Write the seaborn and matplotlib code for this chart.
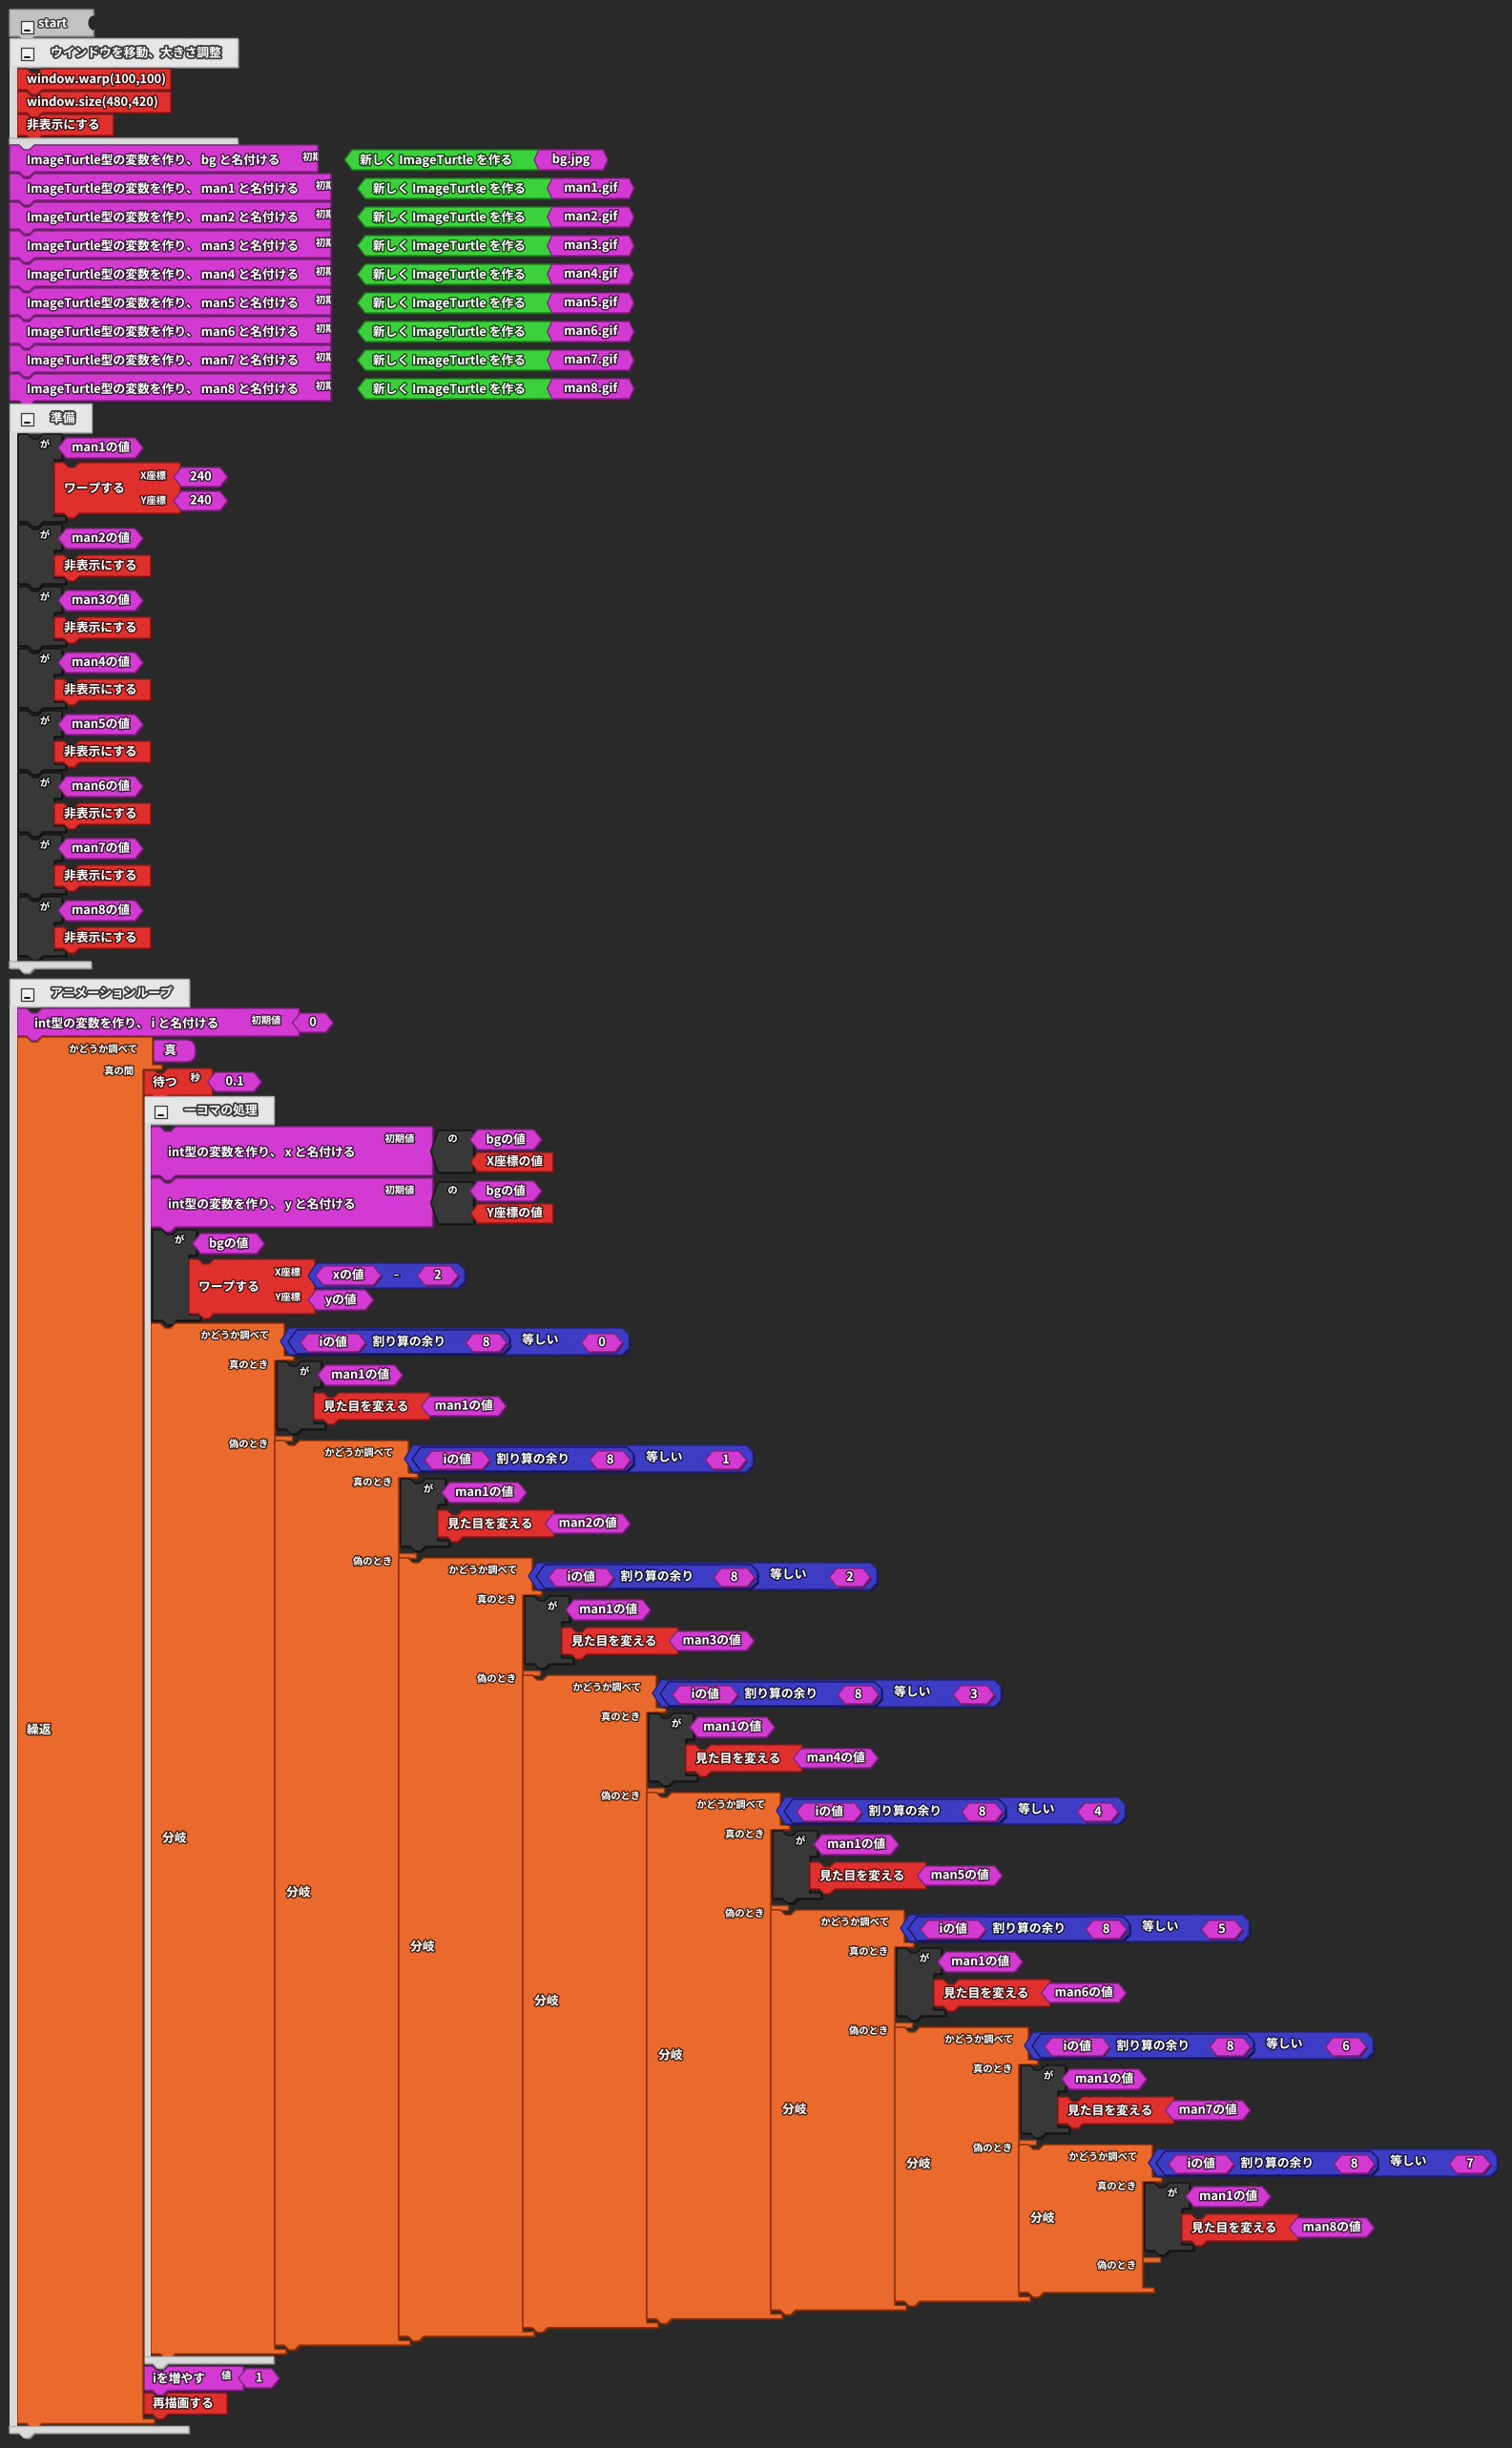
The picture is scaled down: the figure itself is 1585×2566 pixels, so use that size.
#%%
import matplotlib
matplotlib.use("Agg")
import matplotlib.pyplot as plt
import matplotlib.patheffects as pe
from matplotlib.patches import Polygon, Rectangle, FancyBboxPatch, Ellipse
from matplotlib import colors as mcolors
import seaborn as sns

# values
start_label = "start"
window_title = "ウインドウを移動、大きさ調整"
window_cmds = ["window.warp(100,100)", "window.size(480,420)", "非表示にする"]
turtle_names = ["bg", "man1", "man2", "man3", "man4", "man5", "man6", "man7", "man8"]
turtle_files = ["bg.jpg", "man1.gif", "man2.gif", "man3.gif", "man4.gif",
                "man5.gif", "man6.gif", "man7.gif", "man8.gif"]
new_turtle = "新しく ImageTurtle を作る"
prep_title = "準備"
prep_targets = ["man1の値", "man2の値", "man3の値", "man4の値",
                "man5の値", "man6の値", "man7の値", "man8の値"]
prep_start = ["240", "240"]
hide_cmd = "非表示にする"
loop_title = "アニメーションループ"
counter_name = "i"
counter_init = "0"
loop_cond = "真"
wait_sec = "0.1"
frame_title = "一コマの処理"
pos_vars = ["x", "y"]
pos_getters = ["X座標の値", "Y座標の値"]
scroll_step = "2"
mod_base = "8"
branch_keys = ["0", "1", "2", "3", "4", "5", "6", "7"]
costumes = ["man1の値", "man2の値", "man3の値", "man4の値",
            "man5の値", "man6の値", "man7の値", "man8の値"]
inc_step = "1"

#%%
BG = "#292929"
PURPLE = "#d23ad2"
RED = "#e0302e"
GREEN = "#3cd03c"
ORANGE = "#ea6a2e"
BLUE = "#3c3cc4"
DARK = "#383838"
GROUP = "#e6e6e6"
GROUP_BAR = "#dadada"
START = "#c2c2c2"

W_PX, H_PX, DPI = 1585, 2566, 100
HALF, FULL = 6.85, 12.8     # px per half / full width char
MAIN, SMALL = 9.2, 7.4      # font sizes (pt)

sns.set_theme(style="dark", rc={"figure.facecolor": BG, "axes.facecolor": BG,
                                "savefig.facecolor": BG})
plt.rcParams["font.family"] = ["Noto Sans CJK JP", "DejaVu Sans"]

TXT_FX = [pe.Stroke(linewidth=2.0, foreground=(0, 0, 0, 0.7)), pe.Normal()]
HEAD_FX = [pe.Stroke(linewidth=2.6, foreground="#3c3c3c"), pe.Normal()]

fig = plt.figure(figsize=(W_PX / DPI, H_PX / DPI), dpi=DPI)
ax = fig.add_axes([0, 0, 1, 1])
ax.set_xlim(0, W_PX)
ax.set_ylim(H_PX, 0)
ax.set_axis_off()


def tw(s):
    return sum(HALF if ord(c) < 0x2000 else FULL for c in s)


def shade(c, f):
    r, g, b = mcolors.to_rgb(c)
    return (r * f, g * f, b * f)


def shape(pts, fc, ec=None, shadow=True, lw=1.0):
    if shadow:
        ax.add_patch(Polygon([(px + 1.6, py + 1.6) for px, py in pts], closed=True,
                             fc=shade(fc, 0.4), ec="none"))
    p = Polygon(pts, closed=True, fc=fc, ec=ec or shade(fc, 0.6), lw=lw)
    ax.add_patch(p)
    return p


def notch_rect(x, y, w, h, top=True, bottom=True):
    pts = [(x, y)]
    if top:
        pts += [(x + 10, y), (x + 15, y + 5), (x + 21, y + 5), (x + 26, y)]
    pts += [(x + w, y), (x + w, y + h)]
    if bottom:
        pts += [(x + 26, y + h), (x + 21, y + h + 5), (x + 15, y + h + 5), (x + 10, y + h)]
    pts += [(x, y + h)]
    return pts


def hexv(x, y, w, h, d=None):
    d = h * 0.4 if d is None else d
    return [(x, y + h / 2), (x + d, y), (x + w - d, y), (x + w, y + h / 2),
            (x + w - d, y + h), (x + d, y + h)]


def left_point(x, y, w, h, d=7):
    return [(x, y + h / 2), (x + d, y), (x + w, y), (x + w, y + h), (x + d, y + h)]


def blue_pts(x, y, w, h):
    return [(x, y + h / 2), (x + 9, y), (x + w - 7, y), (x + w, y + 7),
            (x + w, y + h - 7), (x + w - 7, y + h), (x + 9, y + h)]


def txt(x, y, s, size=MAIN, ha="left", fx=None):
    return ax.text(x, y, s, fontsize=size, ha=ha, va="center", color="white",
                   fontweight="bold", path_effects=fx or TXT_FX, zorder=10)


def value(x, y, s, h=21, fc=PURPLE):
    w = tw(s) + 36
    shape(hexv(x, y, w, h), fc)
    txt(x + w / 2, y + h / 2, s, ha="center")
    return w


def command(x, y, s, h=22, fc=RED):
    w = tw(s) + 24
    shape(notch_rect(x, y, w, h), fc)
    txt(x + 10, y + h / 2 + 0.5, s)
    return w


def command_arg(x, y, s, lab, val, h, fc=PURPLE):
    w = tw(s) + 47
    shape(notch_rect(x, y, w, h), fc)
    txt(x + 10, y + h / 2 + 1, s)
    txt(x + 10 + tw(s) + 14, y + 10, lab, SMALL)
    value(x + w - 5, y + (h - 20) / 2, val, 20)
    return w


def checkbox(x, y):
    ax.add_patch(Rectangle((x, y), 13, 13, fc="#f2f2f2", ec="#3a3a3a", lw=0.9, zorder=5))
    ax.plot([x + 4, x + 9], [y + 9.5, y + 9.5], color="#111111", lw=1.4, zorder=6)


def group_header(x, y, title, h):
    w = 43 + tw(title) + 17
    shape([(x, y), (x + w, y), (x + w, y + h), (x, y + h)], GROUP, ec="#b0b0b0")
    checkbox(x + 12, y + 10)
    txt(x + 43, y + h / 2 + 1, title, fx=HEAD_FX)
    return w


def group_footer(x, w, top, bar_y):
    ax.add_patch(Rectangle((x, top), 8, bar_y - top, fc=GROUP_BAR, ec="none"))
    shape(notch_rect(x, bar_y, w, 7, top=False), GROUP_BAR, ec="#b0b0b0")


def decl(x, y, s, h, clip=False):
    w = tw(s) + (54 if clip else 88)
    p = shape(notch_rect(x, y, w, h), PURPLE)
    txt(x + 18, y + h / 2 + 2, s)
    t = txt(x + 18 + tw(s) + 20, y + 13, "初期値", SMALL)
    if clip:
        # the label runs under the attached block, only its start shows
        t.set_clip_path(p)
        t.set_clip_on(True)
    return w


def tell(x, T, h, target, bw=38):
    pts = [(x, T), (x + 10, T), (x + 15, T + 5), (x + 21, T + 5), (x + 26, T),
           (x + bw + 8, T), (x + bw + 8, T + 27), (x + bw, T + 27),
           (x + bw, T + h - 6), (x + bw + 12, T + h - 6), (x + bw + 12, T + h),
           (x + 26, T + h), (x + 21, T + h + 5), (x + 15, T + h + 5), (x + 10, T + h), (x, T + h)]
    shape(pts, DARK, ec="#121212")
    txt(x + bw - 10, T + 11, "が", SMALL, ha="center")
    value(x + bw + 4, T + 4, target)
    return x + bw


def warp(x, y, first, second, h=55, w=132):
    shape(notch_rect(x, y, w, h), RED)
    txt(x + 10, y + h / 2 + 1, "ワープする")
    txt(x + 117, y + 14, "X座標", SMALL, ha="right")
    txt(x + 117, y + 40, "Y座標", SMALL, ha="right")
    first(x + 125, y + 4)
    second(x + 125, y + 30)


def minus_block(x, y):
    xv = f"{pos_vars[0]}の値"
    xw = tw(xv) + 36
    sw = tw(scroll_step) + 36
    ow = 8 + xw + 38 + sw + 7
    shape(blue_pts(x, y, ow, 26), BLUE)
    value(x + 8, y + 3, xv, 20)
    txt(x + 8 + xw + 16, y + 12, "-", size=11, ha="center")
    value(x + 8 + xw + 38, y + 3, scroll_step, 20)


def attr_getter(x, y, obj, attr):
    shape(left_point(x, y, 45, 44, d=8), DARK, ec="#121212")
    txt(x + 23, y + 9, "の", SMALL, ha="center")
    value(x + 41, y - 1, obj)
    aw = tw(attr) + 28
    shape(left_point(x + 42, y + 23, aw, 20), RED)
    txt(x + 42 + (aw + 6) / 2, y + 33, attr, ha="center")


def pill(x, y, s, h, fc=PURPLE):
    w = tw(s) + 40
    ax.add_patch(FancyBboxPatch((x + 1.6, y + 1.6), w, h, boxstyle="round,pad=0,rounding_size=10",
                                fc=shade(fc, 0.4), ec="none"))
    ax.add_patch(FancyBboxPatch((x, y), w, h, boxstyle="round,pad=0,rounding_size=10",
                                fc=fc, ec=shade(fc, 0.6), lw=1.0))
    txt(x + w / 2, y + h / 2, s, ha="center")


def equals_mod(cx, cy, key):
    iv = f"{counter_name}の値"
    mod_txt, eq_txt = "割り算の余り", "等しい"
    i_w = tw(iv) + 36
    b_w = tw(mod_base) + 36
    k_w = tw(key) + 36
    inner_w = 13 + i_w + 7 + tw(mod_txt) + 21 + b_w + 3
    outer_w = 8 + inner_w + 13 + tw(eq_txt) + 24 + k_w + 7
    shape(blue_pts(cx, cy, outer_w, 28), BLUE)
    ix = cx + 8
    shape(blue_pts(ix, cy + 2, inner_w, 25), BLUE, ec="#161660")
    value(ix + 13, cy + 6, iv, 19)
    txt(ix + 13 + i_w + 7, cy + 15, mod_txt)
    value(ix + inner_w - 3 - b_w, cy + 6, mod_base, 19)
    txt(ix + inner_w + 13, cy + 13, eq_txt)
    value(cx + outer_w - 7 - k_w, cy + 6, key, 19)


def c_block(x, top, bottom, col_w, arm_h):
    pts = [(x, top), (x + 10, top), (x + 15, top + 5), (x + 21, top + 5), (x + 26, top),
           (x + col_w + 10, top), (x + col_w + 10, top + arm_h),
           (x + col_w + 20, top + arm_h), (x + col_w + 20, top + arm_h + 5),
           (x + col_w, top + arm_h + 5), (x + col_w, bottom - 5),
           (x + col_w + 12, bottom - 5), (x + col_w + 12, bottom),
           (x + 26, bottom), (x + 21, bottom + 5), (x + 15, bottom + 5), (x + 10, bottom), (x, bottom)]
    shape(pts, ORANGE, ec="#8a2c04")


#%%
L, GB = 10, 8
IF_COL, IF_PITCH = 130, 123

# start block
shape(notch_rect(L, 10, 88, 28, top=False), START, ec="#8f8f8f")
ax.add_patch(Ellipse((L + 88, 24), 11, 15, fc=BG, ec="none", zorder=2))
checkbox(L + 12, 22)
txt(L + 30, 25, start_label)

# window group
gy = 40
gw = group_header(L, gy, window_title, 30)
y = gy + 32
for s in window_cmds:
    command(L + GB, y, s)
    y += 24
group_footer(L, gw, gy + 30, y + 1)
y += 8

# ImageTurtle declarations
for name, fname in zip(turtle_names, turtle_files):
    s = f"ImageTurtle型の変数を作り、 {name} と名付ける"
    decl(L, y, s, 28, clip=True)
    gx = L + tw(s) + 82
    gwid = tw(new_turtle) + 40
    shape(left_point(gx, y + 5, gwid, 21, d=8), GREEN)
    txt(gx + 16, y + 16, new_turtle)
    fw_ = tw(fname) + 36
    shape(hexv(gx + gwid - 7, y + 5, fw_, 21, d=5), PURPLE)
    txt(gx + gwid - 7 + fw_ / 2, y + 15.5, fname, ha="center")
    y += 30

# prep group
gy = y + 1
gw = group_header(L, gy, prep_title, 30)
y = gy + 32
for k, target in enumerate(prep_targets):
    if k == 0:
        bar = tell(L + GB + 1, y, 92, target)
        warp(bar, y + 30,
             lambda X, Y: value(X, Y + 1, prep_start[0], 20),
             lambda X, Y: value(X, Y, prep_start[1], 20), h=53)
        y += 95
    else:
        bar = tell(L + GB + 1, y, 62, target)
        command(bar, y + 32, hide_cmd)
        y += 65
group_footer(L, gw, gy + 30, y + 3)
y += 21

# animation loop group
gy = y
gw = group_header(L, gy, loop_title, 29)
y = gy + 31
s = f"int型の変数を作り、 {counter_name} と名付ける"
w = decl(L + GB, y, s, 29)
value(L + GB + w - 7, y + 5, counter_init, 20)
y += 30
loop_top = y
col_x, col_w = L + GB, 132
body_x = col_x + col_w

txt(body_x - 6, loop_top + 13, "かどうか調べて", SMALL, ha="right")
txt(body_x - 10, loop_top + 36, "真の間", SMALL, ha="right")
pill(body_x + 2, loop_top + 3, loop_cond, 23)

y = loop_top + 33
command_arg(body_x, y, "待つ", "秒", wait_sec, 28, fc=RED)
y += 29

# one-frame group
fy = y
fw = group_header(body_x, fy, frame_title, 29)
y = fy + 32
fx0 = body_x + GB
for var, attr in zip(pos_vars, pos_getters):
    s = f"int型の変数を作り、 {var} と名付ける"
    w = decl(fx0, y, s, 51)
    attr_getter(fx0 + w - 2, y + 4, f"{turtle_names[0]}の値", attr)
    y += 54
bar = tell(fx0 + 2, y, 95, f"{turtle_names[0]}の値")
warp(bar, y + 31, minus_block,
     lambda X, Y: value(X, Y + 2, f"{pos_vars[1]}の値", 21), h=57)
y += 98

# if chain
chain_top = y
n = len(branch_keys)
tops = [chain_top + k * IF_PITCH for k in range(n)]
bottoms = [0.0] * n
bottoms[-1] = tops[-1] + 155
for k in range(n - 2, -1, -1):
    bottoms[k] = bottoms[k + 1] + 9.2

for k, (key, cost) in enumerate(zip(branch_keys, costumes)):
    X = fx0 + k * IF_COL
    T, B = tops[k], bottoms[k]
    c_block(X, T, B, IF_COL, 34)
    # else-slot lip
    shape([(X + IF_COL, T + 118), (X + IF_COL + 18, T + 118),
           (X + IF_COL + 18, T + 123), (X + IF_COL, T + 123)], ORANGE, shadow=False)
    txt(X + 124, T + 13, "かどうか調べて", SMALL, ha="right")
    txt(X + 123, T + 44, "真のとき", SMALL, ha="right")
    txt(X + 123, T + 127, "偽のとき", SMALL, ha="right")
    txt(X + 12, (T + B) / 2, "分岐")
    equals_mod(X + 136, T + 5, key)
    bar = tell(X + 132, T + 40, 71, f"{turtle_names[1]}の値", bw=39)
    look = "見た目を変える"
    lw_ = tw(look) + 32
    shape(notch_rect(bar, T + 73, lw_, 28), RED)
    txt(bar + 10, T + 88, look)
    value(bar + tw(look) + 23, T + 77, cost, 20)

y = bottoms[0]
group_footer(body_x, fw, fy + 29, y + 3)
y += 13
command_arg(body_x, y, f"{counter_name}を増やす", "値", inc_step, 25)
y += 28
command(body_x, y, "再描画する")
y += 32

# while block column
c_block(col_x, loop_top, y, col_w, 29)
txt(col_x + 10, (loop_top + y) / 2, "繰返")
group_footer(L, gw, gy + 29, y + 3)

fig.savefig("out.png", dpi=DPI, facecolor=BG)
